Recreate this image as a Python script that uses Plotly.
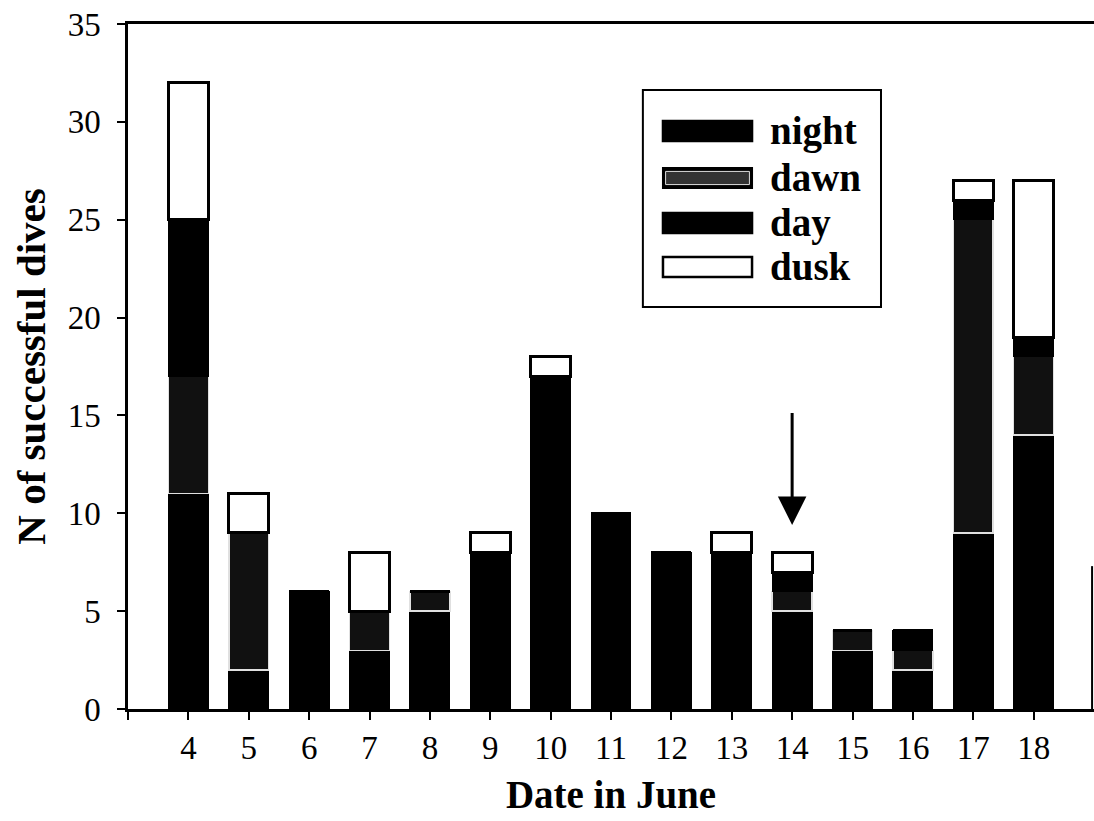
import plotly.graph_objects as go

dates = [4, 5, 6, 7, 8, 9, 10, 11, 12, 13, 14, 15, 16, 17, 18]
night = [11, 2, 6, 3, 5, 8, 17, 10, 8, 8, 5, 3, 2, 9, 14]
dawn = [6, 7, 0, 2, 1, 0, 0, 0, 0, 0, 1, 1, 1, 16, 4]
day = [8, 0, 0, 0, 0, 0, 0, 0, 0, 0, 1, 0, 1, 1, 1]
dusk = [7, 2, 0, 3, 0, 1, 1, 0, 0, 1, 1, 0, 0, 1, 8]
series_names = ["night", "dawn", "day", "dusk"]
y_ticks = [0, 5, 10, 15, 20, 25, 30, 35]

FONT = "Liberation Serif"
styles = {
    "night": dict(color="#000000", line=dict(color="#000000", width=1)),
    "dawn": dict(color="#111111", line=dict(color="#e0e0e0", width=1.5)),
    "day": dict(color="#000000", line=dict(color="#000000", width=1)),
    "dusk": dict(color="#ffffff", line=dict(color="#000000", width=3)),
}
values = {"night": night, "dawn": dawn, "day": day, "dusk": dusk}

fig = go.Figure()
for name in series_names:
    fig.add_trace(go.Bar(x=dates, y=values[name], name=name, width=0.66,
                         marker=styles[name], showlegend=False))

fig.update_layout(
    barmode="stack",
    width=1094, height=821,
    margin=dict(l=128, r=0, t=24, b=112),
    paper_bgcolor="white", plot_bgcolor="white",
    font=dict(family=FONT, color="black", size=33),
)
fig.update_xaxes(
    range=[3, 19], tickvals=[3] + dates, ticktext=[""] + [str(d) for d in dates],
    ticks="outside", ticklen=8, tickwidth=2, tickcolor="black",
    showline=True, linecolor="black", linewidth=2.5, mirror=True,
    showgrid=False, zeroline=False, ticklabelstandoff=0,
    tickfont=dict(size=33, family=FONT),
    title=dict(text="<b>Date in June</b>", font=dict(size=39, family=FONT), standoff=16),
)
fig.update_yaxes(
    range=[0, 35], tickvals=y_ticks,
    ticks="outside", ticklen=8, tickwidth=2, tickcolor="black",
    showline=True, linecolor="black", linewidth=2.5,
    showgrid=False, zeroline=False, ticklabelstandoff=10,
    tickfont=dict(size=33, family=FONT),
    title=dict(text="<b>N of successful dives</b>", font=dict(size=41, family=FONT), standoff=10),
)

# partial right frame line
fig.add_shape(type="line", xref="paper", yref="y", x0=0.998, x1=0.998, y0=0, y1=7.3,
              line=dict(color="black", width=2))

# arrow pointing at 14 June
fig.add_annotation(x=14, y=9.4, ax=14, ay=15.2, xref="x", yref="y", axref="x", ayref="y",
                   showarrow=True, arrowhead=2, arrowsize=1.9, arrowwidth=3,
                   arrowcolor="black", text="")

# custom legend
fig.add_shape(type="rect", xref="paper", yref="paper", x0=0.533, x1=0.7795, y0=0.587, y1=0.9036,
              line=dict(color="black", width=2), fillcolor="white", layer="above")
row_y = [0.8438, 0.7752, 0.7095, 0.6453]
hh = 0.0146
for name, yc in zip(series_names, row_y):
    st = styles[name]
    if name == "dawn":
        fig.add_shape(type="rect", xref="paper", yref="paper", x0=0.5538, x1=0.6460,
                      y0=yc - hh, y1=yc + hh, fillcolor="#000000",
                      line=dict(color="black", width=2), layer="above")
        fig.add_shape(type="rect", xref="paper", yref="paper", x0=0.5565, x1=0.6433,
                      y0=yc - hh + 0.005, y1=yc + hh - 0.005, fillcolor="#333333",
                      line=dict(color="#dddddd", width=1), layer="above")
    else:
        fig.add_shape(type="rect", xref="paper", yref="paper", x0=0.5538, x1=0.6460,
                      y0=yc - hh, y1=yc + hh, fillcolor=st["color"],
                      line=dict(color="black", width=2.5), layer="above")
    fig.add_annotation(x=0.6625, y=yc, xref="paper", yref="paper", text="<b>" + name + "</b>",
                       showarrow=False, xanchor="left", yanchor="middle",
                       font=dict(size=39, family=FONT, color="black"))

fig.write_html("out.html")
